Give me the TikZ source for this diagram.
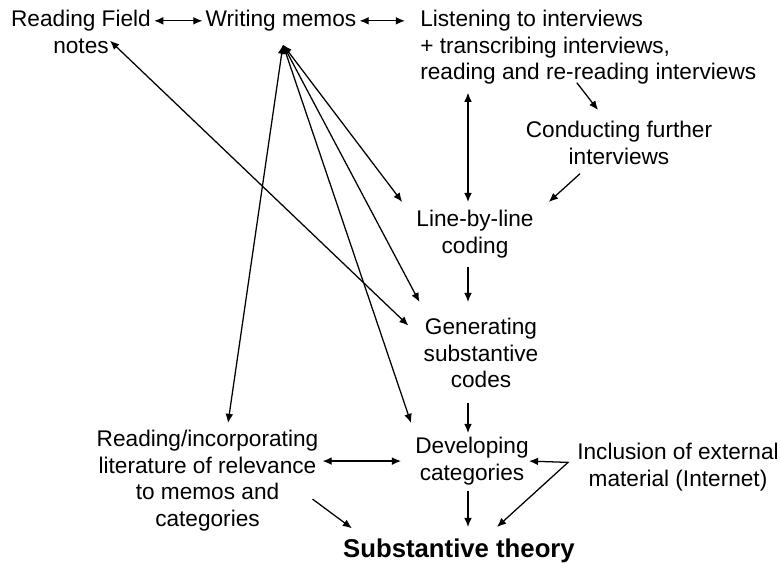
\documentclass[tikz,border=0pt]{standalone}
\usepackage{fontspec}
\setmainfont{Liberation Sans}
\usetikzlibrary{arrows.meta}

\def\tipLen{6.5pt}
\def\tipWid{5.5pt}

\tikzset{
    stage/.style = {align=center, inner sep=0pt,
        font=\fontsize{16.1}{18.85}\selectfont},
    oneway/.style = {-{Latex[length=\tipLen,width=\tipWid]}, line width=0.9pt},
    twoway/.style = {{Latex[length=\tipLen,width=\tipWid]}-{Latex[length=\tipLen,width=\tipWid]},
        line width=0.9pt},
}

\begin{document}
\begin{tikzpicture}[x=0.025cm, y=-0.025cm]
            \useasboundingbox (0,0) rectangle (781,564);
            %% stages
            \node [stage, anchor=north] (fieldnotes) at (81,10) {Reading Field\\notes};
            \node [stage, anchor=north] (memos) at (281,10) {Writing memos};
            \node [stage, anchor=north west, align=left] (listen) at (420,10)
            {Listening to interviews\\+ transcribing interviews,\\reading and re-reading interviews};
            \node [stage, anchor=north] (further) at (619,121) {Conducting further\\interviews};
            \node [stage, anchor=north] (lbl) at (475,210) {Line-by-line\\coding};
            \node [stage, anchor=north] (gen) at (481,318) {Generating\\substantive\\codes};
            \node [stage, anchor=north] (dev) at (472,437) {Developing\\categories};
            \node [stage, anchor=north] (litread) at (207.5,430)
            {Reading/incorporating\\literature of relevance\\to memos and\\categories};
            \node [stage, anchor=north] (incl) at (678,443) {Inclusion of external\\material (Internet)};
            \node [anchor=north, inner sep=0pt, font=\fontsize{18.3}{22}\selectfont\bfseries]
            (theory) at (459,539) {Substantive theory};
            \coordinate (hub) at ([shift={(2,13)}]memos.south);
            %% top row
            \draw [twoway]
            ([shift={(3,0)}]fieldnotes.east |- memos.west) -- ([shift={(-3,0)}]memos.west)
            ;
            \draw [twoway]
            ([shift={(3,0)}]memos.east) -- ([shift={(-15,0)}]listen.west |- memos.east)
            ;
            %% interviews
            \draw [oneway]
            ([shift={(-11.5,-2)}]listen.south) -- ([shift={(-21,-11)}]further.north)
            ;
            \draw [oneway]
            ([shift={(-39,9)}]further.south) -- ([shift={(15,-8)}]lbl.north east)
            ;
            \draw [twoway]
            ([shift={(-7,8)}]lbl.north |- listen.south) -- ([shift={(-7,-8)}]lbl.north)
            ;
            %% down the middle
            \draw [oneway]
            ([shift={(-7,9)}]lbl.south) -- ([shift={(-7,-16)}]lbl.south |- gen.north)
            ;
            \draw [oneway]
            ([shift={(-13,15)}]gen.south) -- ([shift={(-4,-4)}]dev.north)
            ;
            \draw [oneway]
            ([shift={(-4,5.5)}]dev.south) -- ([shift={(9,-12)}]theory.north)
            ;
            %% literature and external material
            \draw [twoway]
            ([shift={(4,0)}]litread.east |- dev.west) -- ([shift={(-14,0)}]dev.west)
            ;
            \draw [oneway]
            ([shift={(-6,18.5)}]litread.east) -- ([shift={(9,-23)}]theory.west)
            ;
            \draw [twoway]
            (dev.east) -- ([shift={(-9,-4.7)}]incl.west) -- ([shift={(38,-12)}]theory.north)
            ;
            %% memos hub
            \draw [twoway] (hub) -- ([shift={(20.5,-7)}]litread.north);
            \draw [twoway] (hub) -- ([shift={(-14,-8)}]lbl.north west);
            \draw [twoway] (hub) -- ([shift={(-4,-16)}]gen.north west);
            \draw [twoway] (hub) -- ([shift={(-4,-14)}]dev.north west);
            %% field notes
            \draw [twoway]
            ([shift={(29,-13)}]fieldnotes.south) -- ([shift={(-15,-27.5)}]gen.west)
            ;
        \end{tikzpicture}
\end{document}
